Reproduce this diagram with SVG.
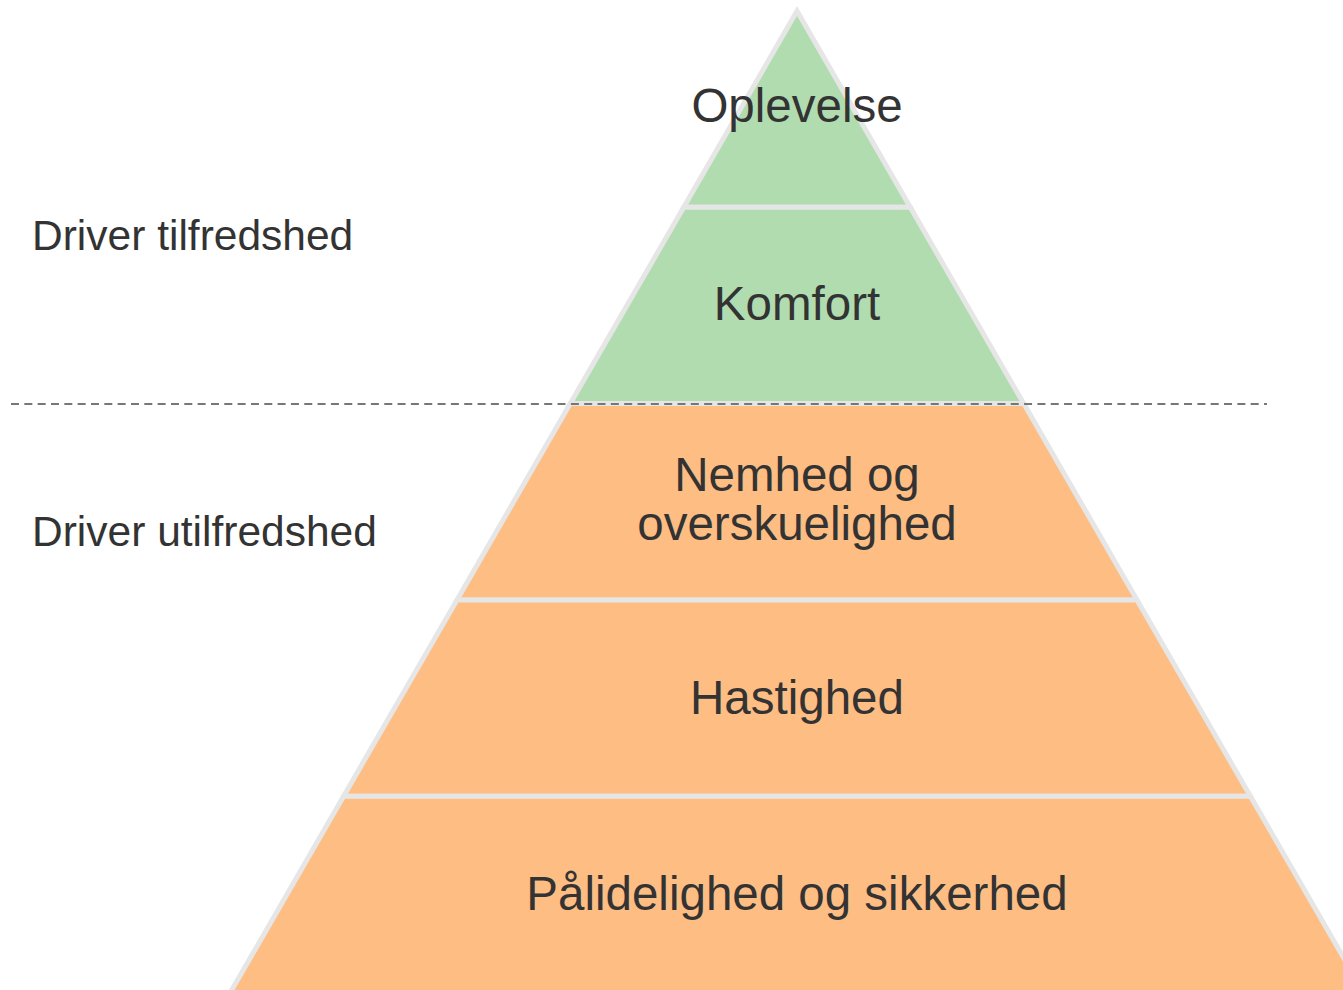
<svg xmlns="http://www.w3.org/2000/svg" width="1343" height="990" viewBox="0 0 1343 990">
<style>
.lvl { stroke: #e6e6e6; stroke-width: 5; stroke-linejoin: miter; }
.green { fill: #b0dcb0; }
.orange { fill: #fdbd83; }
.t { font-family: "Liberation Sans", Arial, sans-serif; fill: #333333; }
.lbl { font-size: 47.5px; text-anchor: middle; }
.side { font-size: 42.5px; }
</style>
<rect width="1343" height="990" fill="#ffffff"/>
<g id="level-oplevelse">
<polygon class="lvl green" points="797,11 910.3,207.3 683.7,207.3"/>
<text class="t lbl" x="797" y="122">Oplevelse</text>
</g>
<g id="level-komfort">
<polygon class="lvl green" points="683.7,207.3 910.3,207.3 1023.7,403.6 570.3,403.6"/>
<text class="t lbl" x="797" y="320">Komfort</text>
</g>
<g id="level-nemhed">
<polygon class="lvl orange" points="570.3,403.6 1023.7,403.6 1137,599.9 457,599.9"/>
<text class="t lbl" x="797" y="491">Nemhed og</text>
<text class="t lbl" x="797" y="540">overskuelighed</text>
</g>
<g id="level-hastighed">
<polygon class="lvl orange" points="457,599.9 1137,599.9 1250.4,796.2 343.6,796.2"/>
<text class="t lbl" x="797" y="714">Hastighed</text>
</g>
<g id="level-palidelighed">
<polygon class="lvl orange" points="343.6,796.2 1250.4,796.2 1363.7,992.5 230.3,992.5"/>
<text class="t lbl" x="797" y="910">Pålidelighed og sikkerhed</text>
</g>
<g id="connectors">
<line x1="11" y1="404" x2="1267" y2="404" stroke="#777777" stroke-width="2" stroke-dasharray="8 5.33"/>
</g>
<g id="label-tilfredshed">
<text class="t side" x="32" y="250">Driver tilfredshed</text>
</g>
<g id="label-utilfredshed">
<text class="t side" x="32" y="546">Driver utilfredshed</text>
</g>
</svg>
